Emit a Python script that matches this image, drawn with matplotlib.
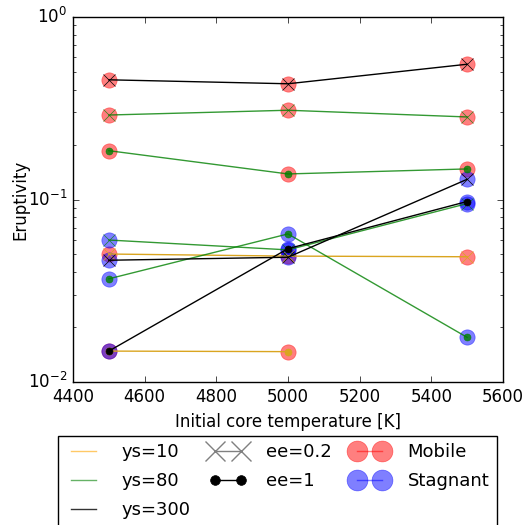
import matplotlib
matplotlib.use('Agg')
import matplotlib.pyplot as plt
from matplotlib.lines import Line2D
import numpy as np

# initial core temperature [K]
temps = [4500, 5000, 5500]

# eruptivity per run series (nan = no run)
ys10_ee02 = [0.0503, 0.0490, 0.0486]
ys10_ee1 = [0.0148, 0.0147, np.nan]
ys80_ee02_mob = [0.290, 0.308, 0.283]
ys80_ee1_mob = [0.185, 0.138, 0.147]
ys300_ee02_mob = [0.452, 0.430, 0.550]
ys80_ee02_stag = [0.0600, 0.0530, 0.0950]
ys80_ee1_stag = [0.0368, 0.0648, 0.0176]
ys300_ee02_stag = [0.0465, 0.0483, 0.129]
ys300_ee1_stag = [0.0148, 0.0538, 0.0975]

# tectonic regime of each point: M = mobile, S = stagnant
reg_ys10_ee02 = ['M', 'M', 'M']
reg_ys10_ee1 = ['M', 'M', None]
reg_mob = ['M', 'M', 'M']
reg_stag = ['S', 'S', 'S']

yield_colors = {10: 'goldenrod', 80: 'green', 300: 'black'}
yield_alpha = {10: 1.0, 80: 0.8, 300: 1.0}
legend_colors = {10: 'orange', 80: 'green', 300: 'black'}
ee_markers = {0.2: ('x', 8), 1: ('o', 5)}
regime_colors = {'M': 'red', 'S': 'blue'}

series = [
    (10, 0.2, ys10_ee02, reg_ys10_ee02),
    (10, 1, ys10_ee1, reg_ys10_ee1),
    (80, 0.2, ys80_ee02_mob, reg_mob),
    (80, 1, ys80_ee1_mob, reg_mob),
    (300, 0.2, ys300_ee02_mob, reg_mob),
    (80, 0.2, ys80_ee02_stag, reg_stag),
    (80, 1, ys80_ee1_stag, reg_stag),
    (300, 0.2, ys300_ee02_stag, reg_stag),
    (300, 1, ys300_ee1_stag, reg_stag),
]

plt.style.use('classic')
fig = plt.figure(figsize=(5.25, 5.25), dpi=100, facecolor='white')
ax = fig.add_axes([0.139, 0.272, 0.819, 0.696])

# regime circles underneath
for ys, ee, vals, reg in series:
    for t, v, r in zip(temps, vals, reg):
        if r is None:
            continue
        ax.plot([t], [v], 'o', color=regime_colors[r], mec=regime_colors[r],
                ms=11, alpha=0.5, zorder=1)

# lines with ee markers on top
for ys, ee, vals, reg in series:
    m, ms = ee_markers[ee]
    c = yield_colors[ys]
    ax.plot(temps, vals, '-', color=c, marker=m, ms=ms, mec=c, mfc=c,
            lw=1.0, alpha=yield_alpha[ys], zorder=2)

ax.set_yscale('log')
ax.set_xlim(4400, 5600)
ax.set_ylim(1e-2, 1e0)
ax.set_xlabel('Initial core temperature [K]', fontsize=12)
ax.set_ylabel('Eruptivity', fontsize=12, labelpad=-1)

handles = [
    Line2D([], [], color=legend_colors[10], alpha=0.6),
    Line2D([], [], color=legend_colors[80], alpha=0.6),
    Line2D([], [], color=legend_colors[300], alpha=0.8),
    Line2D([], [], color='gray', marker='x', ms=15, mew=1.0),
    Line2D([], [], color='black', marker='o', ms=7),
    Line2D([], [], color='red', marker='o', ms=15, alpha=0.5, mec='red'),
    Line2D([], [], color='blue', marker='o', ms=15, alpha=0.5, mec='blue'),
]
labels = ['ys=10', 'ys=80', 'ys=300', 'ee=0.2', 'ee=1', 'Mobile', 'Stagnant']
fig.legend(handles, labels, loc='upper left', ncol=3, numpoints=2,
           bbox_to_anchor=(58 / 525, 1 - 436 / 525), borderaxespad=0,
           fontsize=13, frameon=True, fancybox=False,
           handlelength=2.0, columnspacing=1.1, handletextpad=1.1,
           labelspacing=0.6)

fig.savefig('out.png', dpi=100, facecolor='white')
